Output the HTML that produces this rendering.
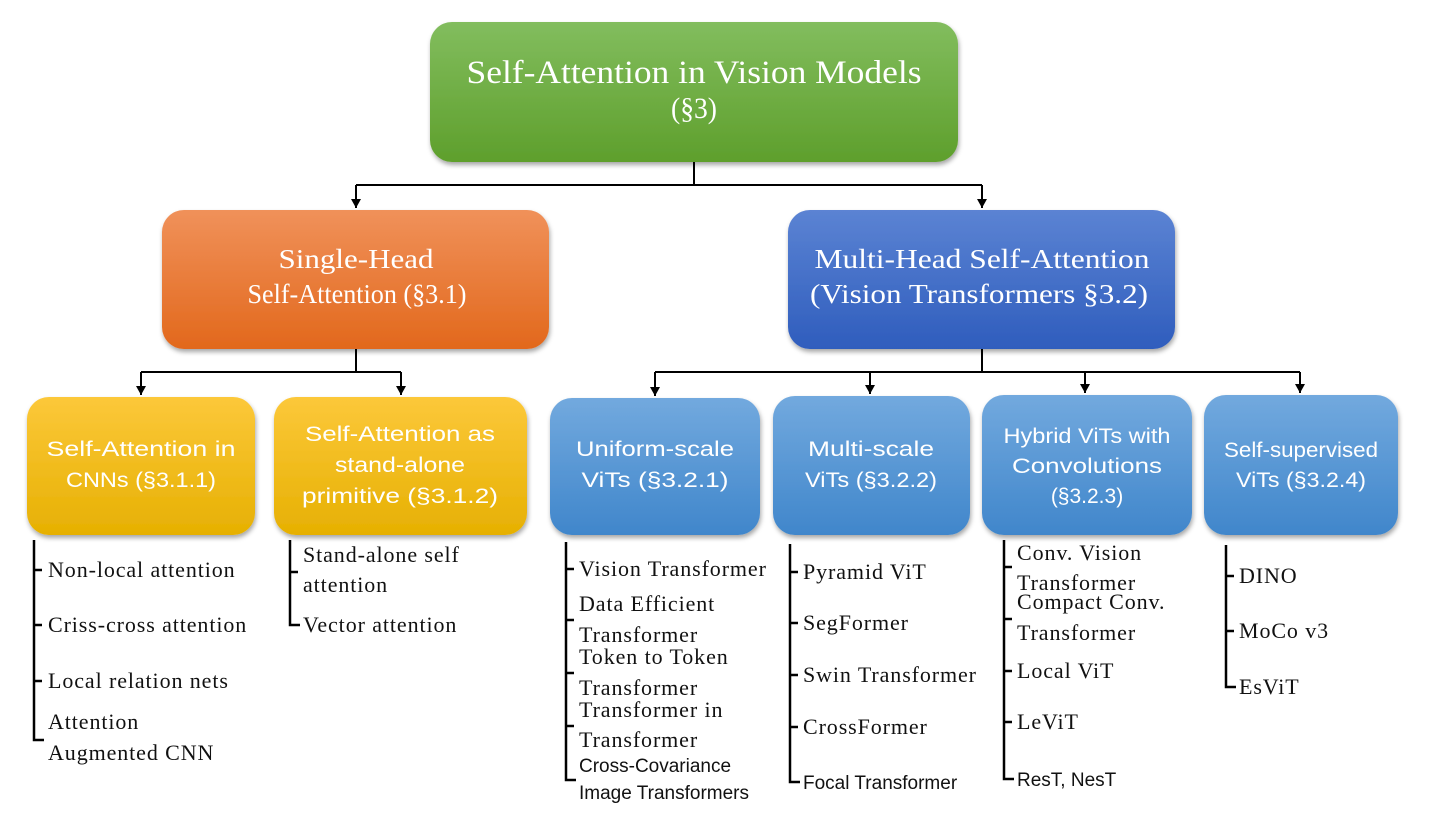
<!DOCTYPE html>
<html><head><meta charset="utf-8"><style>
html,body{margin:0;padding:0;background:#fff;}
svg{display:block;}
.s{font-family:"Liberation Serif",serif;}
.a{font-family:"Liberation Sans",sans-serif;}
.w{fill:#fff;}
.l{font-family:"Liberation Serif",serif;font-size:22px;letter-spacing:0.9px;fill:#111;}
.la{font-family:"Liberation Sans",sans-serif;font-size:19px;fill:#111;}
</style></head><body>
<svg width="1430" height="826" viewBox="0 0 1430 826" xmlns="http://www.w3.org/2000/svg">
<defs>
<linearGradient id="g" x1="0" y1="0" x2="0" y2="1"><stop offset="0" stop-color="#82bd5e"/><stop offset="1" stop-color="#5e9f2c"/></linearGradient>
<linearGradient id="o" x1="0" y1="0" x2="0" y2="1"><stop offset="0" stop-color="#f0915a"/><stop offset="1" stop-color="#e2681c"/></linearGradient>
<linearGradient id="b" x1="0" y1="0" x2="0" y2="1"><stop offset="0" stop-color="#5b83d3"/><stop offset="1" stop-color="#2f5dbd"/></linearGradient>
<linearGradient id="y" x1="0" y1="0" x2="0" y2="1"><stop offset="0" stop-color="#fcc83a"/><stop offset="1" stop-color="#e6b002"/></linearGradient>
<linearGradient id="lb" x1="0" y1="0" x2="0" y2="1"><stop offset="0" stop-color="#72a9de"/><stop offset="1" stop-color="#4086cb"/></linearGradient>
<filter id="sh" x="-10%" y="-10%" width="120%" height="130%"><feDropShadow dx="1" dy="3" stdDeviation="2.5" flood-color="#000" flood-opacity="0.35"/></filter>
<marker id="ar" markerWidth="10" markerHeight="10" refX="9" refY="5" orient="auto" markerUnits="userSpaceOnUse"><path d="M0,0 L9,5 L0,10 z" fill="#000"/></marker>
</defs>
<rect x="430" y="22" width="528" height="140" rx="22" fill="url(#g)" filter="url(#sh)"/>
<rect x="162" y="210" width="387" height="139" rx="22" fill="url(#o)" filter="url(#sh)"/>
<rect x="788" y="210" width="387" height="139" rx="22" fill="url(#b)" filter="url(#sh)"/>
<rect x="27" y="397" width="228" height="138" rx="22" fill="url(#y)" filter="url(#sh)"/>
<rect x="274" y="397" width="253" height="138" rx="22" fill="url(#y)" filter="url(#sh)"/>
<rect x="550" y="398" width="210" height="137" rx="22" fill="url(#lb)" filter="url(#sh)"/>
<rect x="773" y="396" width="197" height="139" rx="22" fill="url(#lb)" filter="url(#sh)"/>
<rect x="982" y="395" width="210" height="140" rx="22" fill="url(#lb)" filter="url(#sh)"/>
<rect x="1204" y="395" width="194" height="140" rx="22" fill="url(#lb)" filter="url(#sh)"/>
<g stroke="#000" stroke-width="2" fill="none">
<path d="M694,162 V185 M356,185 H982"/>
<path d="M356,185 V208" marker-end="url(#ar)"/><path d="M982,185 V208" marker-end="url(#ar)"/>
<path d="M356,349 V372 M141,372 H401"/>
<path d="M141,372 V395" marker-end="url(#ar)"/><path d="M401,372 V395" marker-end="url(#ar)"/>
<path d="M982,349 V372 M655,372 H1300"/>
<path d="M655,372 V396" marker-end="url(#ar)"/><path d="M870,372 V394" marker-end="url(#ar)"/>
<path d="M1085,372 V393" marker-end="url(#ar)"/><path d="M1300,372 V393" marker-end="url(#ar)"/>
</g>
<g class="s w" text-anchor="middle">
<text x="694" y="83" font-size="33" textLength="455" lengthAdjust="spacingAndGlyphs">Self-Attention in Vision Models</text>
<text x="694" y="118" font-size="30" textLength="46" lengthAdjust="spacingAndGlyphs">(§3)</text>
<text x="356" y="268" font-size="27" textLength="155" lengthAdjust="spacingAndGlyphs">Single-Head</text>
<text x="357" y="303" font-size="27" textLength="219" lengthAdjust="spacingAndGlyphs">Self-Attention (§3.1)</text>
<text x="982" y="268" font-size="27" textLength="335" lengthAdjust="spacingAndGlyphs">Multi-Head Self-Attention</text>
<text x="979" y="303" font-size="27" textLength="338" lengthAdjust="spacingAndGlyphs">(Vision Transformers §3.2)</text>
</g>
<g class="a w" text-anchor="middle" font-size="21">
<text x="141" y="456" textLength="189" lengthAdjust="spacingAndGlyphs">Self-Attention in</text>
<text x="141" y="487" textLength="150" lengthAdjust="spacingAndGlyphs">CNNs (§3.1.1)</text>
<text x="400" y="441" textLength="190" lengthAdjust="spacingAndGlyphs">Self-Attention as</text>
<text x="400" y="472" textLength="130" lengthAdjust="spacingAndGlyphs">stand-alone</text>
<text x="400" y="503" textLength="196" lengthAdjust="spacingAndGlyphs">primitive (§3.1.2)</text>
<text x="655" y="456" textLength="158" lengthAdjust="spacingAndGlyphs">Uniform-scale</text>
<text x="655" y="487" textLength="147" lengthAdjust="spacingAndGlyphs">ViTs (§3.2.1)</text>
<text x="871" y="456" textLength="126" lengthAdjust="spacingAndGlyphs">Multi-scale</text>
<text x="871" y="487" textLength="132" lengthAdjust="spacingAndGlyphs">ViTs (§3.2.2)</text>
<text x="1087" y="443" textLength="167" lengthAdjust="spacingAndGlyphs">Hybrid ViTs with</text>
<text x="1087" y="473" textLength="150" lengthAdjust="spacingAndGlyphs">Convolutions</text>
<text x="1087" y="503">(§3.2.3)</text>
<text x="1301" y="457" textLength="154" lengthAdjust="spacingAndGlyphs">Self-supervised</text>
<text x="1301" y="487" textLength="130" lengthAdjust="spacingAndGlyphs">ViTs (§3.2.4)</text>
</g>
<g stroke="#000" stroke-width="2.5" fill="none">
<path d="M34,540 V740 H44 M34,570 H42 M34,625 H42 M34,681 H42"/>
<path d="M290,540 V625 H300 M290,572 H298"/>
<path d="M566,542 V780 H576 M566,569 H574 M566,620 H574 M566,673 H574 M566,726 H574"/>
<path d="M790,544 V782 H800 M790,572 H798 M790,623 H798 M790,675 H798 M790,727 H798"/>
<path d="M1004,540 V779 H1014 M1004,567 H1012 M1004,619 H1012 M1004,671 H1012 M1004,722 H1012"/>
<path d="M1226,545 V687 H1236 M1226,576 H1234 M1226,631 H1234"/>
</g>
<g class="l">
<text x="48" y="577">Non-local attention</text>
<text x="48" y="632">Criss-cross attention</text>
<text x="48" y="688">Local relation nets</text>
<text x="48" y="729">Attention</text>
<text x="48" y="760">Augmented CNN</text>
<text x="303" y="562">Stand-alone self</text>
<text x="303" y="592">attention</text>
<text x="303" y="632">Vector attention</text>
<text x="579" y="576">Vision Transformer</text>
<text x="579" y="611">Data Efficient</text>
<text x="579" y="642">Transformer</text>
<text x="579" y="664">Token to Token</text>
<text x="579" y="695">Transformer</text>
<text x="579" y="717">Transformer in</text>
<text x="579" y="747">Transformer</text>
<text x="803" y="579">Pyramid ViT</text>
<text x="803" y="630">SegFormer</text>
<text x="803" y="682">Swin Transformer</text>
<text x="803" y="734">CrossFormer</text>
<text x="1017" y="560">Conv. Vision</text>
<text x="1017" y="590">Transformer</text>
<text x="1017" y="609">Compact Conv.</text>
<text x="1017" y="640">Transformer</text>
<text x="1017" y="678">Local ViT</text>
<text x="1017" y="729">LeViT</text>
<text x="1239" y="583">DINO</text>
<text x="1239" y="638">MoCo v3</text>
<text x="1239" y="694">EsViT</text>
</g>
<g class="la">
<text x="579" y="772">Cross-Covariance</text>
<text x="579" y="799">Image Transformers</text>
<text x="803" y="789">Focal Transformer</text>
<text x="1017" y="786">ResT, NesT</text>
</g>
</svg>
</body></html>
